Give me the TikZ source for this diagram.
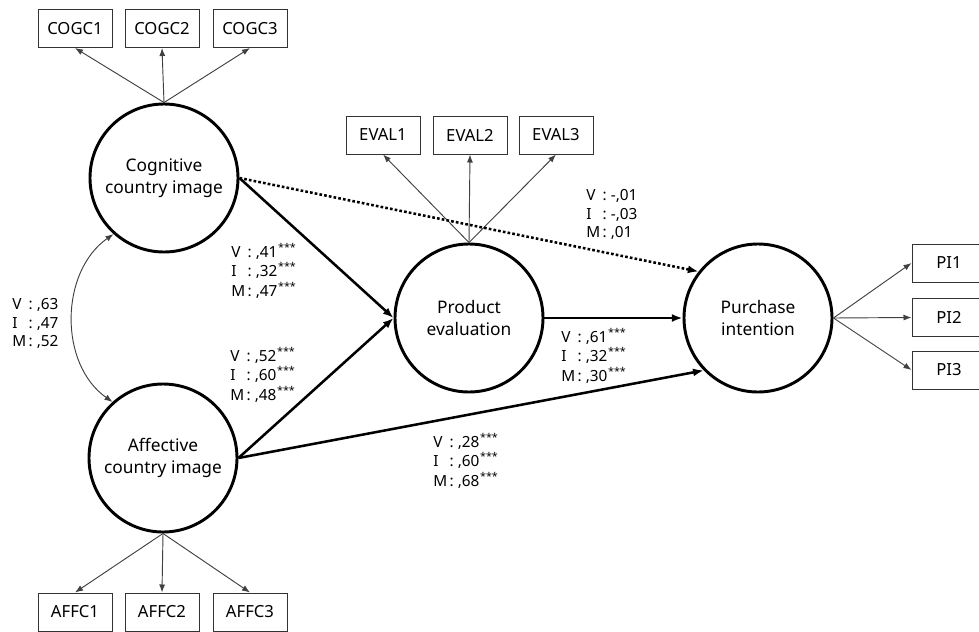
\documentclass[tikz,border=0pt]{standalone}
\usepackage{fontspec}
\setmainfont{Noto Sans}
\usetikzlibrary{arrows.meta}
\newcommand\sig{\textsuperscript{\kern0.5pt***}}
\newcommand\coefs[3]{\begin{tabular}{@{}l@{\,:\ }l@{}}V&#1\\I&#2\\M&#3\end{tabular}}
\tikzset{
  latent/.style={circle,draw,line width=2.2pt,minimum size=111pt,inner sep=0pt,align=center,
    font=\fontsize{13}{16.5}\selectfont},
  indicator/.style={draw=black!80,line width=0.75pt,minimum width=55.5pt,minimum height=28.5pt,
    inner sep=0pt,font=\fontsize{12.5}{15}\selectfont},
  load/.style={-{Latex[length=6pt,width=4.5pt]},line width=0.7pt,draw=black!75},
  effect/.style={-{Latex[length=8pt,width=6pt]},line width=1.9pt},
  coef/.style={inner sep=0pt,anchor=north west,font=\fontsize{11.5}{14}\selectfont}
}
\begin{document}
\begin{tikzpicture}[x=0.75pt,y=-0.75pt]
  \useasboundingbox (0,0) rectangle (979,632);
  % latent variables
  \node[latent] (cog) at (164,178) {Cognitive\\country image};
  \node[latent] (aff) at (163,458) {Affective\\country image};
  \node[latent] (prod) at (469,318) {Product\\evaluation};
  \node[latent] (pur) at (758,318) {Purchase\\intention};
  % indicators
  \node[indicator] (cogc1) at (75,28.5) {COGC1};
  \node[indicator] (cogc2) at (162,28.5) {COGC2};
  \node[indicator] (cogc3) at (250,28.5) {COGC3};
  \node[indicator] (affc1) at (75,612) {AFFC1};
  \node[indicator] (affc2) at (162,612) {AFFC2};
  \node[indicator] (affc3) at (250,612) {AFFC3};
  \node[indicator] (eval1) at (383,135) {EVAL1};
  \node[indicator] (eval2) at (470,135) {EVAL2};
  \node[indicator] (eval3) at (556,135) {EVAL3};
  \node[indicator] (pi1) at (949,263) {PI1};
  \node[indicator] (pi2) at (949,317.5) {PI2};
  \node[indicator] (pi3) at (949,370) {PI3};
  \foreach \i in {1,2,3} {
    \draw[load] (cog.north) -- (cogc\i.south);
    \draw[load] (aff.south) -- (affc\i.north);
    \draw[load] (prod.north) -- (eval\i.south);
    \draw[load] (pur.east) -- (pi\i.west);
  }
  % structural paths
  \draw[effect] (cog.east) -- (prod.west);
  \draw[effect] (aff.east) -- (prod.west);
  \draw[effect] (aff.east) -- (pur.224);
  \draw[effect] (prod.east) -- (pur.west);
  \draw[effect,dash pattern=on 2pt off 1.6pt] (cog.east) -- (pur.142);
  \draw[{Latex[length=6pt,width=4.5pt]}-{Latex[length=6pt,width=4.5pt]},line width=0.7pt,draw=black!75]
    (cog.228) to[out=215,in=145] (aff.132);
  % coefficients
  \node[coef] (c1) at (12,296) {\coefs{,63}{,47}{,52}};
  \node[coef] (c2) at (231,243) {\coefs{,41\sig}{,32\sig}{,47\sig}};
  \node[coef] (c3) at (230,347) {\coefs{,52\sig}{,60\sig}{,48\sig}};
  \node[coef] (c4) at (586,187) {\coefs{-,01}{-,03}{,01}};
  \node[coef] (c5) at (561,328) {\coefs{,61\sig}{,32\sig}{,30\sig}};
  \node[coef] (c6) at (433,433) {\coefs{,28\sig}{,60\sig}{,68\sig}};
\end{tikzpicture}
\end{document}
